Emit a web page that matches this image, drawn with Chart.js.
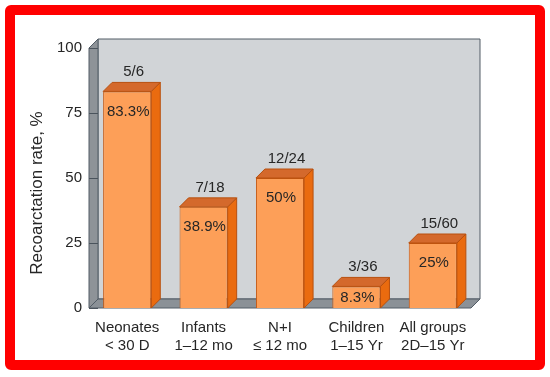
<!DOCTYPE html>
<html>
<head>
<meta charset="utf-8">
<script src="https://cdn.jsdelivr.net/npm/chart.js@4"></script>
<style>
html, body { margin: 0; padding: 0; background: #fff; }
#frame {
  position: absolute; left: 5px; top: 5px; width: 540px; height: 365px;
  box-sizing: border-box; border: 10px solid #ff0000; border-radius: 6px;
}
#wrap { position: absolute; left: 0; top: 0; width: 550px; height: 377px; }
</style>
</head>
<body>
<div id="frame"></div>
<div id="wrap"><canvas id="chart"></canvas></div>
<script>
/* DATA */
const groups = [
  ["Neonates", "< 30 D"],
  ["Infants", "1–12 mo"],
  ["N+I", "≤ 12 mo"],
  ["Children", "1–15 Yr"],
  ["All groups", "2D–15 Yr"]
];
const rates = [83.3, 38.9, 50, 8.3, 25];
const rateLabels = ["83.3%", "38.9%", "50%", "8.3%", "25%"];
const counts = ["5/6", "7/18", "12/24", "3/36", "15/60"];
const yTitle = "Recoarctation rate, %";

/* STYLE */
const FONT = "'Liberation Sans', Arial, sans-serif";
const TEXT = "#262626";
const DEPTH = 9;

function poly(ctx, pts, fill, stroke) {
  ctx.beginPath();
  ctx.moveTo(pts[0][0], pts[0][1]);
  for (let i = 1; i < pts.length; i++) ctx.lineTo(pts[i][0], pts[i][1]);
  ctx.closePath();
  ctx.fillStyle = fill;
  ctx.fill();
  if (stroke) {
    ctx.strokeStyle = stroke;
    ctx.lineWidth = 1;
    ctx.stroke();
  }
}

/* 3D WALLS BEHIND THE BARS */
const walls = {
  id: "walls",
  beforeDatasetsDraw(chart) {
    const { ctx, chartArea: a, scales } = chart;
    const d = DEPTH;
    const edge = "#525c66";
    ctx.save();
    poly(ctx, [[a.left + d, a.top - d], [a.right + d, a.top - d],
               [a.right + d, a.bottom - d], [a.left + d, a.bottom - d]], "#d1d4d7", edge);
    poly(ctx, [[a.left, a.top], [a.left + d, a.top - d],
               [a.left + d, a.bottom - d], [a.left, a.bottom]], "#8e9398", edge);
    poly(ctx, [[a.left, a.bottom], [a.left + d, a.bottom - d],
               [a.right + d, a.bottom - d], [a.right, a.bottom]], "#8b9197", edge);
    ctx.strokeStyle = "#4a535c";
    ctx.lineWidth = 1;
    scales.y.ticks.forEach(t => {
      const y = Math.round(scales.y.getPixelForValue(t.value)) + 0.5;
      ctx.beginPath();
      ctx.moveTo(a.left, y);
      ctx.lineTo(a.left + d, y);
      ctx.stroke();
    });
    ctx.restore();
  },

  /* SIDE AND TOP FACES, LABELS */
  afterDatasetsDraw(chart) {
    const { ctx } = chart;
    const d = DEPTH;
    const bars = chart.getDatasetMeta(0).data;
    ctx.save();
    bars.forEach((bar, i) => {
      const { x, y, base, width } = bar.getProps(["x", "y", "base", "width"], true);
      const l = x - width / 2, r = x + width / 2;
      poly(ctx, [[r, y], [r + d, y - d], [r + d, base - d], [r, base]], "#ea6b0f", "#b8500e");
      poly(ctx, [[l, y], [l + d, y - d], [r + d, y - d], [r, y]], "#d4692c", "#b8500e");

      ctx.fillStyle = TEXT;
      ctx.font = "15px " + FONT;
      ctx.textAlign = "center";
      ctx.textBaseline = "middle";
      const py = Math.min(y + 20, (y + base) / 2 + 1);
      ctx.fillText(rateLabels[i], x + 1, py);
      ctx.fillText(counts[i], x + d / 2 + 2, y - 19.5);
    });

    ctx.font = "17px " + FONT;
    ctx.translate(37, 193);
    ctx.rotate(-Math.PI / 2);
    ctx.textAlign = "center";
    ctx.textBaseline = "middle";
    ctx.fillText(yTitle, 0, 0);
    ctx.restore();
  }
};

new Chart(document.getElementById("chart"), {
  type: "bar",
  data: {
    labels: groups,
    datasets: [{
      data: rates,
      backgroundColor: "#fd9f58",
      borderColor: "#c4560f",
      borderWidth: 1,
      categoryPercentage: 1,
      barPercentage: 0.63
    }]
  },
  options: {
    responsive: true,
    maintainAspectRatio: false,
    animation: false,
    events: [],
    layout: { padding: { top: 48, right: 79, left: 0, bottom: 0 } },
    plugins: { legend: { display: false }, tooltip: { enabled: false } },
    scales: {
      x: {
        grid: { display: false, drawTicks: false },
        border: { display: false },
        ticks: { color: TEXT, padding: 11, maxRotation: 0, autoSkip: false,
                 font: { family: FONT, size: 15, lineHeight: 1.2 } },
        afterFit(s) { s.height = 69; }
      },
      y: {
        min: 0, max: 100,
        grid: { display: false, drawTicks: false },
        border: { display: false },
        ticks: { stepSize: 25, color: TEXT, padding: 7,
                 font: { family: FONT, size: 15 } },
        afterFit(s) { s.width = 89; }
      }
    }
  },
  plugins: [walls]
});
</script>
</body>
</html>
